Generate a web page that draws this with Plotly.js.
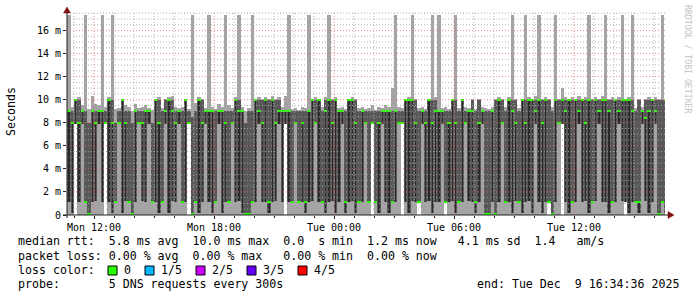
<!DOCTYPE html>
<html><head><meta charset="utf-8">
<script src="https://cdn.plot.ly/plotly-3.0.1.min.js"></script>
<style>html,body{margin:0;padding:0;background:#fff;}#chart{width:697px;height:297px;}</style>
</head><body><div id="chart"></div>
<script>
// ---- data (milliseconds), one column per 10 minutes starting Mon 2025-12-08 10:40 ----
const startTime = '2025-12-08T10:40:00';
const stepMinutes = 10;
const pingMin = [0,0,7.9,0,0,0,0,0,0,0, 0,7.9,0,0,0,0,0,0,0,0, 0,0,0,0,0,0,0,0,0,0, 0,0,0,0,0,0,7.9,0,0,0, 0,0,0,0,0,0,0,0,0,0, 0,0,0,0,0,0,0,0,0,0, 0,0,0,0,0,7.9,0,0,0,0, 0,0,0,0,0,0,0,0,0,0, 0,0,0,0,0,0,0,0,0,0, 0,7.9,0,0,0,0,0,0,0,0, 7.9,0,0,0,0,1.1,0,0,0,0, 0,0,0,1.1,0,0,0,0,0,0, 0,0,0,0,0,0,0,0,0,0, 0,0,0,0,0,0,0,0,0,0, 0,0,0,0,1.1,0,0,0,7.9,0, 0,0,0,0,0,0,0,0,0,0, 0,0,0,0,0,0,0,1.1,0,0, 0,0,0,0,0,0,0,0,0,0];
const pingLow = [1.1,0.2,7.9,1.1,7.9,1.1,0.1,1.1,1.2,7.9, 1.1,7.9,1.1,0.2,1.1,7.9,0.2,1.2,1.1,0.1, 1.1,7.9,1.2,1.1,7.9,1.1,1.1,0.2,1.1,7.9, 0.2,1.2,1.1,7.9,1.1,1.1,7.9,0.1,1.1,0.2, 1.1,7.9,1.1,0.2,1.1,7.9,0.2,1.1,1.1,7.9, 1.1,1.2,0.2,0.1,0.1,1.1,1.1,7.9,1.1,1.1, 0.2,1.1,1.2,7.9,1.1,7.9,1.1,1.1,7.9,1.1, 1.1,0.2,1.1,1.2,7.9,1.1,1.1,0.2,1.1,1.2, 0.2,1.1,7.9,0.2,1.1,1.2,0.2,1.1,1.1,7.9, 1.1,7.9,1.1,0.2,7.9,1.1,0.2,1.1,1.1,7.9, 7.9,1.1,0.2,1.2,1.1,1.1,7.9,1.1,1.2,0.2, 1.1,1.1,7.9,1.1,1.1,1.2,0.2,1.1,1.1,7.9, 1.2,1.1,0.2,1.1,7.9,0.1,0.1,1.1,0.1,1.1, 7.9,1.1,1.1,0.2,1.2,1.1,0.2,1.1,1.2,0.2, 7.9,1.1,0.2,1.1,1.1,0.1,1.1,7.9,7.9,1.1, 0.2,1.1,1.1,7.9,1.1,1.2,0.2,1.1,1.2,7.9, 1.1,1.1,0.2,1.1,1.1,7.9,1.2,1.1,0.2,1.1, 1.1,0.2,7.9,1.2,0.2,1.1,7.9,0.1,1.1,0.2];
const median = [9,8,10,8,9,1.1,0.1,9,8,9, 9,8,10,8,1.1,8,10,8,1.1,0.1, 9,8,8,9,9,1.1,10,8,1.1,9, 10,9,8,9,1.1,10,8,0.1,1.1,10, 8,9,9,9,1.1,9,9,8,1.1,8, 10,9,9,0.1,0.1,1.1,10,9,8,10, 1.1,10,8,9,9,9,9,1.1,8,1.1, 8,1.1,9,10,8,10,1.1,9,10,8, 10,9,9,1.1,10,10,8,1.1,9,8, 1.1,8,1.1,8,9,9,9,1.1,9,8, 8,10,10,10,8,1.1,9,8,10,8, 9,9,9,1.1,8,10,8,1.1,10,8, 9,9,1.1,8,9,0.1,0.1,9,0.1,10, 8,1.1,10,9,8,1.1,10,8,10,10, 9,10,8,10,1.1,0.1,10,8,10,9, 10,1.1,10,9,10,8,10,1.1,10,9, 10,10,9,1.1,10,9,10,10,10,9, 1.1,1.1,9,8.4,9,10,9,0.1,1.1,10];
const pingHigh = [9,9,10,10,9,9,8,9,9,9, 9,9,10,10,8,9,10,9,9,8, 9,9,9,9,9,8,10,10,9,10, 10,10,9,9,9,10,9,8.5,9,10, 10,9,9,9,9,9,9,9,9,9, 10,10,9,8,9,9,10,10,10,10, 10,10,10,10,9,9,9,9,9,9, 9,9,9,10,10,10,9,10,10,10, 10,9,9,9,10,10,10,9,9,9, 9,9,9,9,9,9,9,9,9,9, 9,10,10,10,10,9,9,9,10,10, 10,9,9,9,9,10,10,9,10,9, 9,10,9,10,9,9,9,9,10,10, 10,9,10,10,10,9,10,10,10,10, 10,10,10,10,10,9,10,10,10,10, 10,10,10,10,10,10,10,10,10,10, 10,10,10,10,10,10,10,10,10,10, 9,10,9,10,10,10,10,10,10,10];
const pingMax = [17.3,9.4,10.1,10.2,9.5,17.3,9.2,10.3,9.6,9.5, 17.3,9.4,10.2,17.3,9.2,9.3,10.1,9.5,9.4,9.0, 9.6,9.3,9.4,9.5,9.3,9.1,10.1,10.2,9.3,10.1, 10.2,10.3,9.4,9.3,9.4,10.1,9.2,17.3,9.7,10.2, 10.1,9.3,17.3,9.4,9.2,9.6,9.4,17.3,9.5,9.3, 10.2,17.3,9.4,9.0,9.3,17.3,10.1,10.2,10.1,10.2, 10.1,10.3,10.1,10.2,9.4,10.3,17.3,9.2,9.3,9.1, 9.4,9.3,17.3,10.1,10.2,10.1,9.4,10.2,17.3,10.1, 10.2,9.3,9.4,9.2,10.1,10.2,10.1,9.3,9.4,9.2, 9.3,9.5,9.1,9.4,9.3,9.5,9.4,11.0,17.3,9.4, 9.3,10.1,10.2,17.3,10.1,9.3,9.4,9.2,10.1,17.3, 10.2,17.3,9.3,9.4,9.2,10.1,17.3,9.3,10.1,9.4, 9.3,10.1,9.2,10.1,9.4,9.3,9.2,9.4,10.1,10.2, 10.1,9.4,10.2,17.3,10.1,9.3,10.1,17.3,10.2,10.1, 10.3,17.3,10.1,10.2,10.1,9.4,17.3,10.1,11.0,10.2, 10.1,10.2,10.1,10.3,10.1,10.2,17.3,10.1,10.2,10.1, 10.3,17.3,10.1,10.2,10.1,10.2,17.3,10.1,10.2,17.3, 9.3,10.1,9.4,10.1,10.2,10.1,10.2,10.1,17.3,10.1];

const xTickVals = ['2025-12-08 12:00','2025-12-08 18:00','2025-12-09 00:00','2025-12-09 06:00','2025-12-09 12:00'];
const xTickText = ['Mon 12:00','Mon 18:00','Tue 00:00','Tue 06:00','Tue 12:00'];
const yTickVals = [0,2,4,6,8,10,12,14,16];
const yTickText = ['0','2 m','4 m','6 m','8 m','10 m','12 m','14 m','16 m'];

const legendLines = [
  'median rtt:  5.8 ms avg  10.0 ms max  0.0  s min  1.2 ms now   4.1 ms sd  1.4   am/s',
  'packet loss: 0.00 % avg  0.00 % max   0.00 % min  0.00 % now'
];
const lossLabels = ['0','1/5','2/5','3/5','4/5'];
const lossColors = ['#26ff00','#00b8ff','#cc00ff','#6600ff','#ff0000'];
const probeText = 'probe:       5 DNS requests every 300s';
const endText = 'end: Tue Dec  9 16:34:36 2025';

// ---- layout constants ----
const W = 697, H = 297, ML = 67, MR = 32, MT = 12, MB = 82;
const PW = W - ML - MR, PH = H - MT - MB;
const px = x => (x - ML) / PW;
const py = y => (MT + PH - y) / PH;
const nb = s => s.replace(/ /g, '\u00a0');

function fmt(d) {
  const p = n => String(n).padStart(2, '0');
  return d.getUTCFullYear() + '-' + p(d.getUTCMonth() + 1) + '-' + p(d.getUTCDate()) + ' ' +
    p(d.getUTCHours()) + ':' + p(d.getUTCMinutes()) + ':' + p(d.getUTCSeconds());
}
const t0 = Date.parse(startTime + 'Z');
const stepMs = stepMinutes * 60000;
const times = median.map((_, i) => fmt(new Date(t0 + i * stepMs + stepMs / 2)));

const bar = (base, h, color, wf) => ({
  type: 'bar', x: times, y: h, base: base, width: stepMs * wf,
  marker: { color: color, line: { width: 0 } }, hoverinfo: 'skip'
});
const traces = [
  bar(pingMin, pingMax.map((v, i) => v - pingMin[i]), '#a4a4a4', 1),
  bar(pingLow, pingHigh.map((v, i) => v - pingLow[i]), '#585858', 1),
  bar(pingLow, median.map((v, i) => Math.max(0, v - pingLow[i])), '#2a2a2a', 0.45),
  bar(median.map(v => Math.max(0, v - 0.1)), median.map(() => 0.2), '#26ff00', 1)
];

// ---- grid shapes (drawn above data, like rrdtool) ----
const shapes = [];
const gridMinor = 'rgba(170,170,170,0.9)', gridMajor = 'rgba(230,110,110,0.8)';
for (let v = 0.5; v <= 17.5; v += 0.5) {
  const major = Math.abs(v / 2 - Math.round(v / 2)) < 1e-9;
  shapes.push({ type: 'line', xref: 'paper', yref: 'y', x0: 0, x1: 1, y0: v, y1: v, layer: 'above',
    line: { color: major ? gridMajor : gridMinor, width: 1, dash: '1px,2px' } });
}
const h0 = Date.parse('2025-12-08T11:00:00Z');
for (let k = 0; k < 30; k++) {
  const t = h0 + k * 3600000;
  const hr = new Date(t).getUTCHours();
  shapes.push({ type: 'line', xref: 'x', yref: 'paper', x0: fmt(new Date(t)), x1: fmt(new Date(t)), y0: 0, y1: 1, layer: 'above',
    line: { color: hr % 6 === 0 ? gridMajor : gridMinor, width: 1, dash: '1px,2px' } });
}
// axes and arrows
shapes.push({ type: 'line', xref: 'paper', yref: 'paper', x0: px(63), x1: px(669), y0: py(215), y1: py(215), layer: 'above', line: { color: '#202020', width: 1 } });
shapes.push({ type: 'line', xref: 'paper', yref: 'paper', x0: px(67), x1: px(67), y0: py(218), y1: py(12), layer: 'above', line: { color: '#202020', width: 1 } });
shapes.push({ type: 'path', xref: 'paper', yref: 'paper', layer: 'above', fillcolor: '#801010', line: { color: '#801010', width: 0.5 },
  path: `M${px(668)},${py(211.5)} L${px(674)},${py(215)} L${px(668)},${py(218.5)} Z` });
shapes.push({ type: 'path', xref: 'paper', yref: 'paper', layer: 'above', fillcolor: '#801010', line: { color: '#801010', width: 0.5 },
  path: `M${px(63.5)},${py(13)} L${px(67)},${py(7)} L${px(70.5)},${py(13)} Z` });

// ---- texts ----
const mono = 'DejaVu Sans Mono';
const ann = [];
const txt = (s, x, y, opts = {}) => ann.push(Object.assign({
  text: nb(s), xref: 'paper', yref: 'paper', x: px(x), y: py(y), xanchor: 'left', yanchor: 'middle',
  showarrow: false, font: { family: mono, size: 11.6, color: '#000' }
}, opts));
txt('Seconds', 11, 112, { textangle: -90, xanchor: 'center' });
txt('RRDTOOL / TOBI OETIKER', 688, 59, { textangle: 90, xanchor: 'center', font: { family: mono, size: 8.2, color: '#c4c4c4' } });
txt(legendLines[0], 16, 241);
txt(legendLines[1], 16, 256);
txt('loss color:', 16, 270);
const boxX = [108, 145, 196, 247, 298];
lossLabels.forEach((l, i) => {
  shapes.push({ type: 'rect', xref: 'paper', yref: 'paper', x0: px(boxX[i]), x1: px(boxX[i] + 9), y0: py(275), y1: py(266),
    fillcolor: lossColors[i], line: { color: '#000', width: 1 } });
  txt(l, boxX[i] + 14, 270);
});
txt(probeText, 16, 284);
txt(endText, 681, 284, { xanchor: 'right' });

const layout = {
  width: W, height: H, margin: { l: ML, r: MR, t: MT, b: MB, pad: 0 },
  paper_bgcolor: '#fff', plot_bgcolor: '#fff',
  barmode: 'overlay', bargap: 0, showlegend: false,
  font: { family: mono, size: 10, color: '#000' },
  xaxis: {
    type: 'date', range: ['2025-12-08 10:39', '2025-12-09 16:33'],
    tickmode: 'array', tickvals: xTickVals, ticktext: xTickText,
    showgrid: false, zeroline: false, showline: false,
    ticks: 'outside', ticklen: 3, tickcolor: '#202020', tickfont: { family: mono, size: 10 },
    minor: { tickmode: 'linear', tick0: '2025-12-08 11:00', dtick: 3600000, ticks: 'outside', ticklen: 2, tickcolor: '#202020', showgrid: false }
  },
  yaxis: {
    range: [0, 17.6], tickmode: 'array', tickvals: yTickVals, ticktext: yTickText,
    showgrid: false, zeroline: false, showline: false,
    ticks: 'outside', ticklen: 3, tickcolor: '#202020', tickfont: { family: mono, size: 10 }
  },
  shapes: shapes, annotations: ann
};
Plotly.newPlot('chart', traces, layout, { displayModeBar: false, staticPlot: true });
</script></body></html>
